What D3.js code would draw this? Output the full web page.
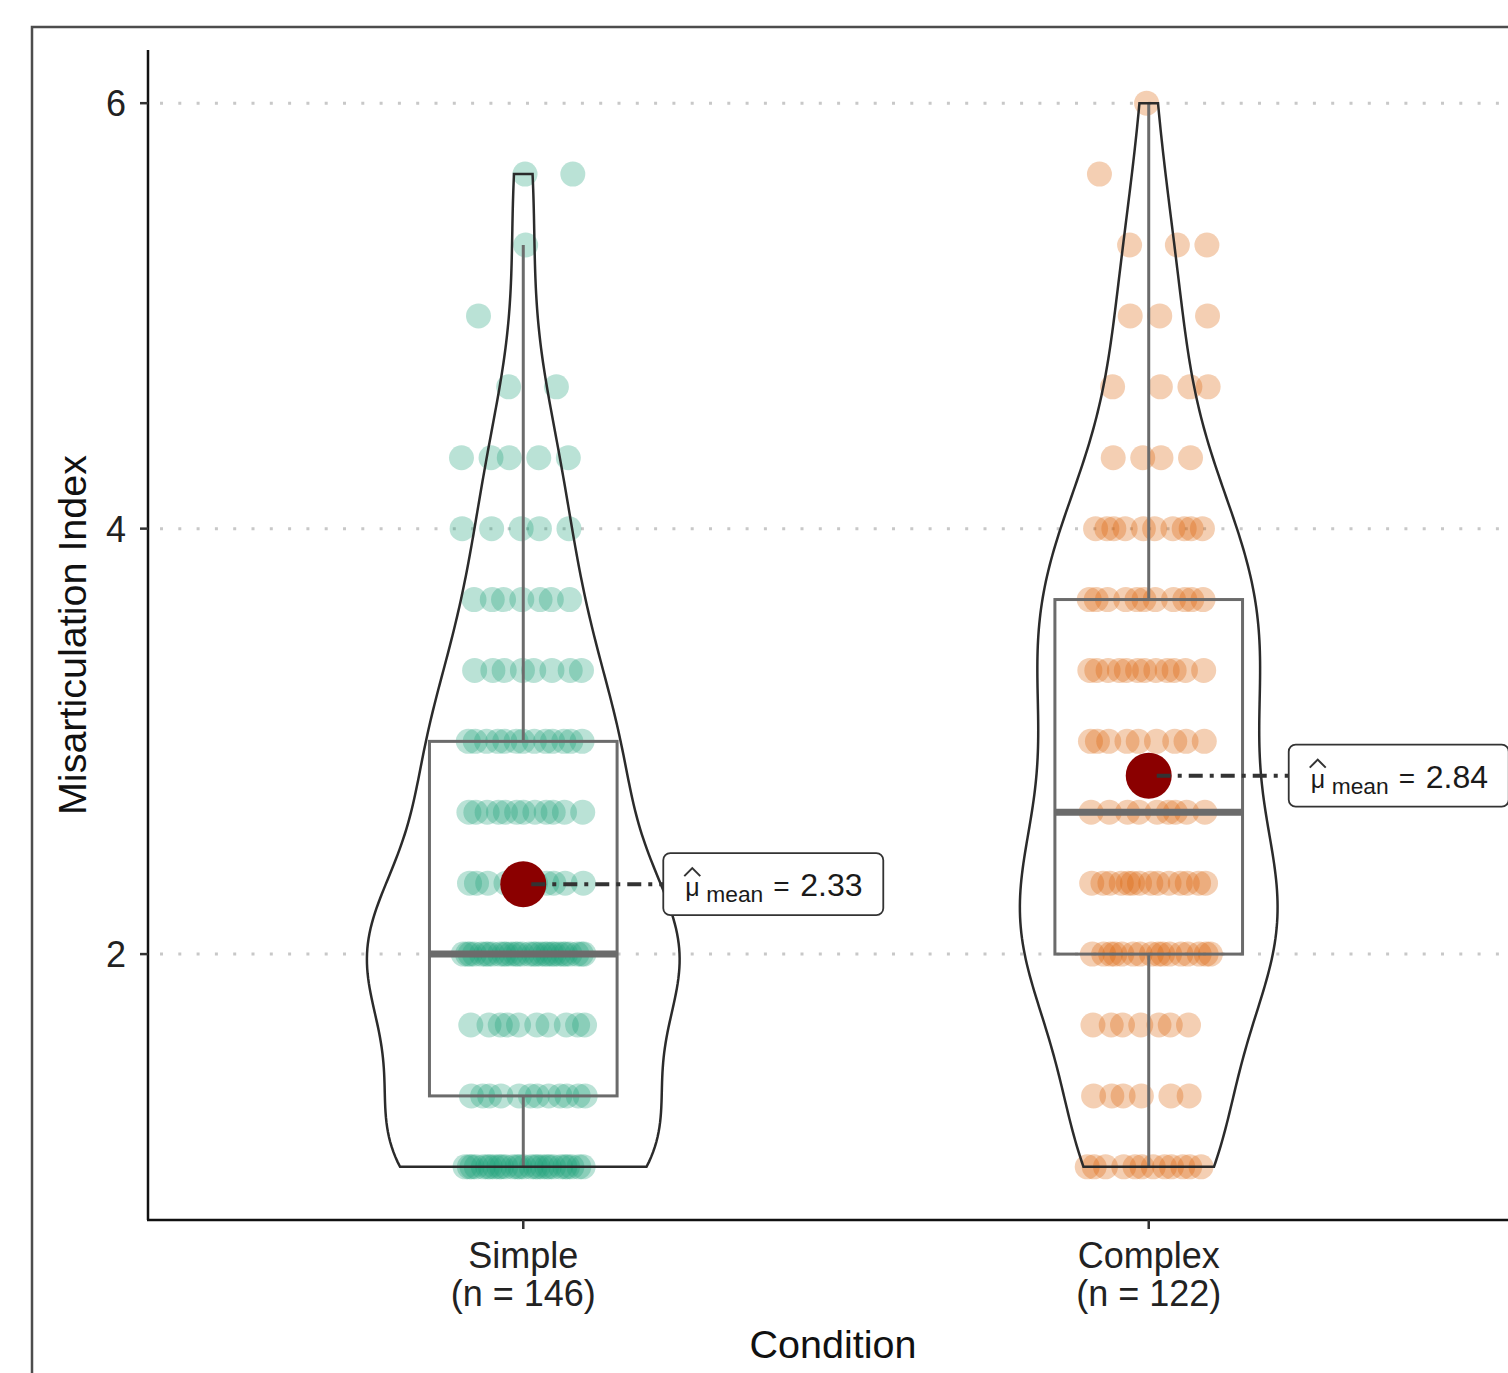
<!DOCTYPE html>
<html lang="en">
<head>
<meta charset="utf-8">
<title>Misarticulation Index by Condition</title>
<script src="https://cdn.jsdelivr.net/npm/d3@7"></script>
<style>
  body { margin: 0; background: #fff; }
  svg text { font-family: "Liberation Sans", Arial, Helvetica, sans-serif; }
</style>
</head>
<body>
<svg id="chart" width="1508" height="1373"></svg>
<script>
// ---- data ----
var categories = ["Simple", "Complex"];
var nLabels = ["(n = 146)", "(n = 122)"];
// observed score levels (steps of 1/3)
var levels = [1, 4/3, 5/3, 2, 7/3, 8/3, 3, 10/3, 11/3, 4, 13/3, 14/3, 5, 16/3, 17/3, 6];
// how many children sit on each level
var simpleCounts  = [28, 12, 10, 30, 10, 12, 13, 8, 7, 5, 5, 2, 1, 1, 2, 0];
var complexCounts = [12, 6, 7, 16, 14, 9, 9, 12, 11, 10, 4, 4, 3, 3, 1, 1];
var yTicks = [2, 4, 6];
var pointColors = ["#1B9E77", "#D95F02"];

var padL = 148, padT = 50, padB = 1220, padR = 1524;

var svg = d3.select("#chart");

var y = d3.scaleLinear().domain([0.75, 6.25]).range([padB, padT]);
var x = d3.scalePoint().domain(categories).range([padL, padR]).padding(0.6);
var unit = x.step();

// expand counts into observations
function expand(counts) {
  var out = [];
  counts.forEach(function(c, k) {
    for (var j = 0; j < c; j++) out.push({ v: levels[k], row: k, j: j });
  });
  return out;
}
var groups = [simpleCounts, complexCounts].map(function(c, gi) {
  var obs = expand(c);
  var vals = obs.map(function(d) { return d.v; }).sort(d3.ascending);
  return { name: categories[gi], obs: obs, vals: vals, color: pointColors[gi] };
});

// outer frame
svg.append("rect").attr("x", 32).attr("y", 27).attr("width", 2000).attr("height", 2000)
  .attr("fill", "none").attr("stroke", "#4d4d4d").attr("stroke-width", 2.5);

// grid
svg.append("g").selectAll("line").data(yTicks).enter().append("line")
  .attr("x1", padL + 12).attr("x2", padR)
  .attr("y1", function(d) { return y(d); }).attr("y2", function(d) { return y(d); })
  .attr("stroke", "#c8c8c8").attr("stroke-width", 3)
  .attr("stroke-dasharray", "3,15.3");

// jittered points (deterministic spread)
var jw = 0.1;
groups.forEach(function(g, gi) {
  svg.append("g").selectAll("circle").data(g.obs).enter().append("circle")
    .attr("cx", function(d) {
      var f = ((d.j + 1) * 0.618034 + d.row * 0.377 + gi * 0.21) % 1;
      return x(g.name) + (f - 0.5) * 2 * jw * unit;
    })
    .attr("cy", function(d) { return y(d.v); })
    .attr("r", 12.5)
    .attr("fill", g.color).attr("fill-opacity", 0.3);
});

// boxplots
var boxHalf = 0.15 * unit;
groups.forEach(function(g) {
  var q1 = d3.quantile(g.vals, 0.25), med = d3.quantile(g.vals, 0.5), q3 = d3.quantile(g.vals, 0.75);
  var iqr = q3 - q1;
  var lo = d3.min(g.vals.filter(function(v) { return v >= q1 - 1.5 * iqr; }));
  var hi = d3.max(g.vals.filter(function(v) { return v <= q3 + 1.5 * iqr; }));
  g.iqr = iqr;
  var cx = x(g.name);
  var b = svg.append("g").attr("stroke", "#6b6b6b").attr("fill", "none");
  b.append("line").attr("x1", cx).attr("x2", cx).attr("y1", y(q3)).attr("y2", y(hi)).attr("stroke-width", 3);
  b.append("line").attr("x1", cx).attr("x2", cx).attr("y1", y(q1)).attr("y2", y(lo)).attr("stroke-width", 3);
  b.append("rect").attr("x", cx - boxHalf).attr("y", y(q3))
    .attr("width", 2 * boxHalf).attr("height", y(q1) - y(q3)).attr("stroke-width", 3);
  b.append("line").attr("x1", cx - boxHalf).attr("x2", cx + boxHalf)
    .attr("y1", y(med)).attr("y2", y(med)).attr("stroke-width", 7);
});

// violins (gaussian kde, nrd0 bandwidth, trimmed, area scaled)
groups.forEach(function(g) {
  var n = g.vals.length;
  var sd = d3.deviation(g.vals);
  var bw = 0.9 * Math.min(sd, g.iqr / 1.34) * Math.pow(n, -0.2);
  var lo = d3.min(g.vals), hi = d3.max(g.vals);
  var grid = d3.range(0, 201).map(function(i) { return lo + (hi - lo) * i / 200; });
  g.dens = grid.map(function(t) {
    var s = 0;
    g.vals.forEach(function(v) { var z = (t - v) / bw; s += Math.exp(-0.5 * z * z); });
    return [t, s / (n * bw * Math.sqrt(2 * Math.PI))];
  });
});
var maxDens = d3.max(groups, function(g) { return d3.max(g.dens, function(d) { return d[1]; }); });
var violinHalf = 0.25 * unit;
groups.forEach(function(g) {
  var cx = x(g.name);
  var pts = g.dens.map(function(d) { return [cx - d[1] / maxDens * violinHalf, y(d[0])]; })
    .concat(g.dens.slice().reverse().map(function(d) { return [cx + d[1] / maxDens * violinHalf, y(d[0])]; }));
  svg.append("path").attr("d", d3.line()(pts) + "Z")
    .attr("fill", "none").attr("stroke", "#2b2b2b").attr("stroke-width", 2.5);
});

// means with labels
var labelGap = 140, labelW = 220, labelH = 62;
groups.forEach(function(g) {
  var m = d3.mean(g.vals);
  var cx = x(g.name), cy = y(m);
  svg.append("circle").attr("cx", cx).attr("cy", cy).attr("r", 23).attr("fill", "#8B0000");
  svg.append("line").attr("x1", cx + 8).attr("x2", cx + labelGap).attr("y1", cy).attr("y2", cy)
    .attr("stroke", "#333").attr("stroke-width", 4).attr("stroke-dasharray", "14,7,4,7");
  var lx = cx + labelGap, ly = cy - labelH / 2;
  var lab = svg.append("g");
  lab.append("rect").attr("x", lx).attr("y", ly).attr("width", labelW).attr("height", labelH)
    .attr("rx", 7).attr("fill", "#fff").attr("stroke", "#333").attr("stroke-width", 1.8);
  var t = lab.append("text").attr("y", cy + 12).attr("fill", "#1a1a1a");
  t.append("tspan").attr("x", lx + 22).attr("font-size", 25).text("μ");
  t.append("tspan").attr("x", lx + 43).attr("dy", 6).attr("font-size", 22)
    .attr("textLength", 57).attr("lengthAdjust", "spacingAndGlyphs").text("mean");
  t.append("tspan").attr("x", lx + 110).attr("dy", -6).attr("font-size", 28).text("=");
  t.append("tspan").attr("x", lx + 137).attr("font-size", 32).text(d3.format(".2f")(m));
  // hat over mu
  lab.append("path")
    .attr("d", "M" + (lx + 21) + "," + (cy - 8) + "L" + (lx + 29) + "," + (cy - 16) + "L" + (lx + 37) + "," + (cy - 8))
    .attr("fill", "none").attr("stroke", "#333").attr("stroke-width", 2);
});

// axes
var yAxis = svg.append("g").attr("transform", "translate(" + padL + ",0)");
yAxis.append("line").attr("x1", 0).attr("x2", 0).attr("y1", padT).attr("y2", padB)
  .attr("stroke", "#111").attr("stroke-width", 2.5);
yAxis.selectAll(".tk").data(yTicks).enter().append("line")
  .attr("x1", -8).attr("x2", 0).attr("y1", function(d) { return y(d); }).attr("y2", function(d) { return y(d); })
  .attr("stroke", "#333").attr("stroke-width", 2.5);
yAxis.selectAll(".lb").data(yTicks).enter().append("text")
  .attr("x", -22).attr("y", function(d) { return y(d); }).attr("dy", "0.36em")
  .attr("text-anchor", "end").attr("font-size", 36).attr("fill", "#222").text(function(d) { return d; });

var xAxis = svg.append("g").attr("transform", "translate(0," + padB + ")");
xAxis.append("line").attr("x1", padL - 1).attr("x2", padR).attr("y1", 0).attr("y2", 0)
  .attr("stroke", "#111").attr("stroke-width", 2.5);
categories.forEach(function(c, i) {
  var cx = x(c);
  xAxis.append("line").attr("x1", cx).attr("x2", cx).attr("y1", 0).attr("y2", 9)
    .attr("stroke", "#333").attr("stroke-width", 2.5);
  xAxis.append("text").attr("x", cx).attr("y", 48).attr("text-anchor", "middle")
    .attr("font-size", 36).attr("fill", "#222").text(c);
  xAxis.append("text").attr("x", cx).attr("y", 86).attr("text-anchor", "middle")
    .attr("font-size", 36).attr("fill", "#222").text(nLabels[i]);
});

svg.append("text").attr("x", 833).attr("y", 1358).attr("text-anchor", "middle")
  .attr("font-size", 39.5).attr("fill", "#111").text("Condition");
svg.append("text").attr("transform", "translate(86,635) rotate(-90)").attr("text-anchor", "middle")
  .attr("font-size", 39.5).attr("fill", "#111").text("Misarticulation Index");
</script>
</body>
</html>
